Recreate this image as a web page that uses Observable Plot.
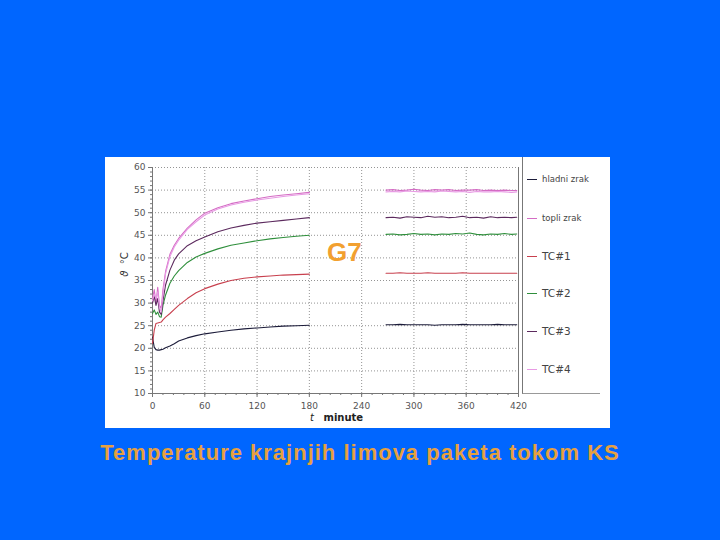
<!DOCTYPE html>
<html>
<head>
<meta charset="utf-8">
<script src="https://cdn.jsdelivr.net/npm/d3@7"></script>
<script src="https://cdn.jsdelivr.net/npm/@observablehq/plot@0.6"></script>
<style>
  html, body { margin: 0; padding: 0; }
  body { width: 720px; height: 540px; background: #0066FF; position: relative; overflow: hidden; font-family: "Liberation Sans", Arial, sans-serif; }
  #panel { position: absolute; left: 105px; top: 157px; width: 505px; height: 271px; background: #fff; }
  #chart { position: absolute; left: 0; top: 0; }
  #legend { position: absolute; left: 417px; top: 0; width: 77px; height: 236px; border-left: 1px solid #777; border-bottom: 1px solid #999; }
  .li { position: absolute; left: 4px; height: 12px; display: flex; align-items: center; font-family: "DejaVu Sans", sans-serif; color: #444; white-space: nowrap; }
  .li span.sw { display: inline-block; width: 10px; height: 0; border-top: 1.5px solid; margin-right: 5px; }
  #g7 { position: absolute; left: 222px; top: 80px; font: bold 26px "Liberation Sans", Arial, sans-serif; color: #F2A030; }
  #ylab { position: absolute; left: 7px; top: 102px; transform: rotate(-90deg); transform-origin: center; font: 10px "DejaVu Sans", sans-serif; color: #333; }
  #xlab { position: absolute; left: 205px; top: 255px; font: 10px "DejaVu Sans", sans-serif; color: #222; }
  #title { position: absolute; left: 0; width: 720px; top: 440px; text-align: center; font: bold 22px "Liberation Sans", Arial, sans-serif; letter-spacing: 1px; color: #E6A040; }
</style>
</head>
<body>
<div id="panel">
  <div id="chart"></div>
  <div id="legend"></div>
  <div id="g7">G7</div>
  <div id="ylab"><i>ϑ</i>&nbsp;&nbsp;°C</div>
  <div id="xlab"><i>t</i>&nbsp;&nbsp;&nbsp;<b>minute</b></div>
</div>
<div id="title">Temperature krajnjih limova paketa tokom KS</div>
<script>
// ---- data ----
const times = [0,2,4,6,8,10,12,15,20,25,30,40,50,60,75,90,105,120,135,150,165,180,
  224,
  268,276,284,292,300,308,316,324,332,340,348,356,364,372,380,388,396,404,412,418];

const hladniZrak = [22.5,20.2,19.7,19.6,19.6,19.7,19.8,20.1,20.5,21.0,21.6,22.3,22.8,23.2,23.6,24.0,24.3,24.5,24.7,24.9,25.0,25.1,
  NaN,
  25.2,25.2,25.3,25.2,25.2,25.2,25.2,25.1,25.2,25.2,25.2,25.3,25.2,25.2,25.2,25.2,25.3,25.2,25.2,25.2];

const topliZrak = [31.0,33.0,30.0,33.5,29.5,28.8,33.0,37.0,40.8,42.8,44.3,46.6,48.4,49.9,51.1,52.0,52.6,53.1,53.6,53.9,54.2,54.5,
  NaN,
  55.0,55.1,54.9,55.0,55.2,55.0,54.9,55.1,55.0,55.1,54.9,55.0,55.0,55.1,54.9,55.0,54.9,55.0,54.9,54.9];

const tc1 = [21.1,24.0,25.5,25.6,25.7,25.8,26.3,26.9,27.7,28.6,29.5,31.0,32.3,33.2,34.2,35.0,35.5,35.8,36.0,36.2,36.3,36.4,
  NaN,
  36.6,36.6,36.7,36.6,36.6,36.6,36.7,36.6,36.6,36.6,36.6,36.7,36.6,36.6,36.6,36.6,36.6,36.6,36.6,36.6];

const tc2 = [27.7,28.5,27.5,28.0,27.0,26.9,29.5,31.8,34.4,36.0,37.2,39.0,40.2,41.0,42.0,42.8,43.3,43.8,44.2,44.5,44.8,45.0,
  NaN,
  45.2,45.3,45.1,45.2,45.4,45.2,45.3,45.1,45.3,45.2,45.4,45.3,45.5,45.2,45.1,45.3,45.2,45.4,45.2,45.3];

const tc3 = [30.0,31.5,29.5,31.0,28.0,27.5,30.5,34.0,37.3,39.5,40.9,42.7,43.8,44.6,45.8,46.6,47.2,47.7,48.0,48.3,48.6,48.9,
  NaN,
  48.9,49.0,48.8,49.1,49.0,48.9,49.2,49.0,49.1,48.9,49.0,49.2,48.9,49.0,48.8,49.1,48.9,49.0,48.9,49.0];

const tc4 = [30.5,32.0,31.0,32.5,29.0,28.0,32.0,36.5,40.3,42.4,43.9,46.3,48.0,49.5,50.8,51.7,52.3,52.8,53.2,53.6,53.9,54.2,
  NaN,
  54.6,54.7,54.6,54.8,54.7,54.6,54.7,54.6,54.8,54.7,54.6,54.7,54.5,54.7,54.6,54.6,54.7,54.6,54.5,54.6];

const seriesNames = ["hladni zrak", "topli zrak", "TC#1", "TC#2", "TC#3", "TC#4"];
const seriesValues = [hladniZrak, topliZrak, tc1, tc2, tc3, tc4];
const seriesColors = ["#1c1c3a", "#d46cc4", "#c8404e", "#2f8f3c", "#5c2a5e", "#e89ae4"];
const xTicks = [0, 60, 120, 180, 240, 300, 360, 420];
const yTicks = [10, 15, 20, 25, 30, 35, 40, 45, 50, 55, 60];

// ---- build table ----
const rows = [];
seriesNames.forEach((s, i) => {
  times.forEach((t, j) => rows.push({ s, t, v: seriesValues[i][j] }));
});

const chart = Plot.plot({
  width: 505,
  height: 271,
  marginLeft: 47,
  marginRight: 92,
  marginTop: 10,
  marginBottom: 35,
  style: { fontFamily: "DejaVu Sans, sans-serif", fontSize: "9px", color: "#555", background: "transparent" },
  x: { domain: [0, 420] },
  y: { domain: [10, 60] },
  color: { domain: seriesNames, range: seriesColors },
  marks: [
    Plot.gridX(xTicks, { stroke: "#888", strokeOpacity: 0.9, strokeDasharray: "1,2" }),
    Plot.gridY(yTicks, { stroke: "#888", strokeOpacity: 0.9, strokeDasharray: "1,2" }),
    Plot.axisY({ ticks: yTicks, tickSize: 4, tickPadding: 3, label: null, stroke: "#777" }),
    Plot.axisY({ ticks: d3.range(10, 61, 1), tickSize: 2, text: null, label: null, stroke: "#777" }),
    Plot.axisX({ ticks: xTicks, tickSize: 4, tickPadding: 5, label: null, stroke: "#777" }),
    Plot.axisX({ ticks: d3.range(0, 421, 12), tickSize: 2, text: null, label: null, stroke: "#777" }),
    Plot.ruleX([0], { stroke: "#777" }),
    Plot.ruleX([420], { stroke: "#777" }),
    Plot.ruleY([10], { stroke: "#777" }),
    Plot.line(rows, { x: "t", y: "v", z: "s", stroke: "s", strokeWidth: 1.1 })
  ]
});
document.getElementById("chart").appendChild(chart);

// ---- legend ----
const legend = document.getElementById("legend");
const legendTops = [16, 55, 93, 130, 168, 206];
seriesNames.forEach((s, i) => {
  const d = document.createElement("div");
  d.className = "li";
  d.style.top = legendTops[i] + "px";
  d.style.fontSize = i < 2 ? "8.5px" : "10.5px";
  const sw = document.createElement("span");
  sw.className = "sw";
  sw.style.borderTopColor = seriesColors[i];
  d.appendChild(sw);
  d.appendChild(document.createTextNode(s));
  legend.appendChild(d);
});
</script>
</body>
</html>
